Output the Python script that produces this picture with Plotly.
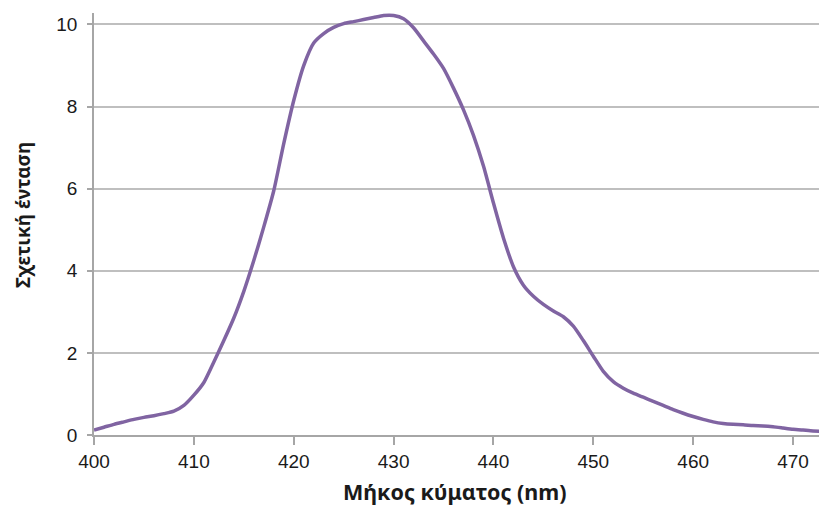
import plotly.graph_objects as go

wavelength_nm = list(range(400, 474))
relative_intensity = [
    0.12, 0.19, 0.26, 0.32, 0.38, 0.43, 0.47, 0.52, 0.58, 0.72,
    0.97, 1.28, 1.78, 2.30, 2.85, 3.50, 4.25, 5.07, 5.95, 7.10,
    8.15, 9.00, 9.55, 9.78, 9.93, 10.02, 10.07, 10.12, 10.17, 10.22,
    10.22, 10.14, 9.92, 9.60, 9.28, 8.93, 8.45, 7.92, 7.30, 6.55,
    5.65, 4.80, 4.10, 3.65, 3.38, 3.18, 3.02, 2.88, 2.65, 2.30,
    1.92, 1.55, 1.30, 1.14, 1.02, 0.92, 0.82, 0.72, 0.62, 0.53,
    0.45, 0.38, 0.32, 0.28, 0.26, 0.25, 0.23, 0.22, 0.20, 0.17,
    0.14, 0.12, 0.10, 0.09,
]
x_ticks = [400, 410, 420, 430, 440, 450, 460, 470]
y_ticks = [0, 2, 4, 6, 8, 10]

x_title = "Μήκος κύματος (nm)"
y_title = "Σχετική ένταση"

fig = go.Figure()
fig.add_trace(go.Scatter(
    x=wavelength_nm, y=relative_intensity, mode="lines",
    line=dict(color="#8064A2", width=3.5, shape="spline", smoothing=0.6),
    hoverinfo="x+y", showlegend=False,
))

tick_family = "Liberation Sans, Arial, sans-serif"
title_family = "Noto Sans, Open Sans, sans-serif"
txt = "#1a1a1a"
fig.update_layout(
    width=819, height=500,
    margin=dict(l=86, r=0, t=5, b=73),
    paper_bgcolor="white", plot_bgcolor="white",
    font=dict(family=tick_family, size=19, color=txt),
    xaxis=dict(
        range=[400, 473.4], tickvals=x_ticks, ticktext=[str(v) for v in x_ticks],
        showline=True, linecolor="#a6a6a6", linewidth=1.5,
        ticks="outside", ticklen=8, tickcolor="#a6a6a6", tickwidth=1.5,
        showgrid=False, zeroline=False, automargin=False,
        tickfont=dict(size=19, color=txt),
    ),
    yaxis=dict(
        range=[0, 10.28], tickvals=y_ticks, ticktext=[str(v) for v in y_ticks],
        showline=True, linecolor="#a6a6a6", linewidth=1.5,
        ticks="outside", ticklen=5, tickcolor="#a6a6a6", tickwidth=1.5,
        showgrid=True, gridcolor="#bfbfbf", gridwidth=1.5,
        zeroline=False, automargin=False,
        tickfont=dict(size=19, color=txt),
        ticklabelstandoff=6,
    ),
    annotations=[
        dict(text="<b>" + x_title + "</b>", xref="paper", yref="paper",
             x=0.4925, y=-0.135, xanchor="center", yanchor="middle", showarrow=False,
             font=dict(family=title_family, size=21.5, color=txt)),
        dict(text="<b>" + y_title + "</b>", xref="paper", yref="paper",
             x=-0.097, y=0.521, xanchor="center", yanchor="middle", showarrow=False,
             textangle=-90,
             font=dict(family=title_family, size=19, color=txt)),
    ],
)

fig.write_html("out.html")
